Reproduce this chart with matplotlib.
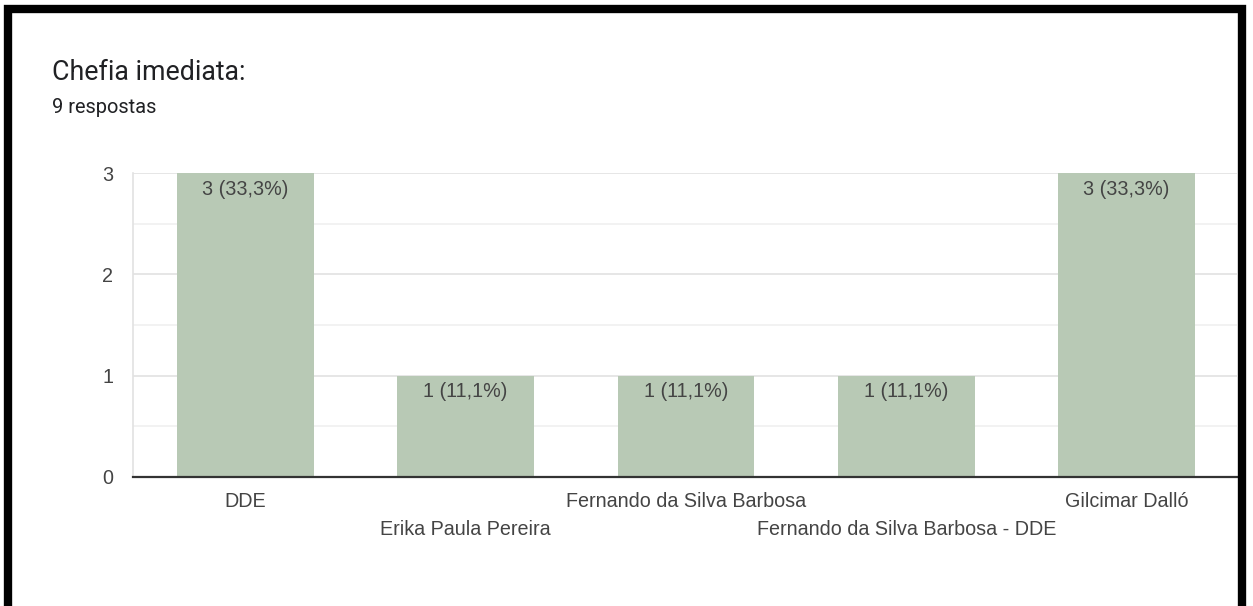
import matplotlib.pyplot as plt
from matplotlib.patches import Rectangle
import numpy as np

categories = ["DDE", "Erika Paula Pereira", "Fernando da Silva Barbosa",
              "Fernando da Silva Barbosa - DDE", "Gilcimar Dalló"]
counts = [3, 1, 1, 1, 3]
percents = ["33,3%", "11,1%", "11,1%", "11,1%", "33,3%"]
title = "Chefia imediata:"
subtitle = "9 respostas"

bar_color = "#b8c9b5"
text_color = "#444444"
fs = 14.2

fig = plt.figure(figsize=(12.53, 6.06), dpi=100)
ax = fig.add_axes([0.1061, 0.2129, 0.8809, 0.5016])

x = np.arange(len(categories))
bars = ax.bar(x, counts, width=0.62, color=bar_color, zorder=2)

ax.set_xlim(-0.51, 4.5)
ax.set_ylim(0, 3)

# grid: major every 1, minor every 0.5
ax.set_yticks([0, 1, 2, 3])
ax.set_yticks(np.arange(0.5, 3, 1), minor=True)
ax.grid(axis="y", which="major", color="#e2e2e2", linewidth=1.2, zorder=0)
ax.grid(axis="y", which="minor", color="#f0f0f0", linewidth=1.2, zorder=0)
ax.tick_params(axis="y", which="both", length=0, pad=14, labelsize=fs,
               labelcolor=text_color)
for lbl in ax.get_yticklabels():
    lbl.set_family("Liberation Sans")

for s in ["top", "right"]:
    ax.spines[s].set_visible(False)
ax.spines["left"].set_color("#e2e2e2")
ax.spines["left"].set_linewidth(1.2)
ax.spines["bottom"].set_color("#333333")
ax.spines["bottom"].set_linewidth(1.6)
ax.spines["bottom"].set_zorder(3)

# staggered category labels
ax.set_xticks(x)
ax.set_xticklabels([])
ax.tick_params(axis="x", length=0)
for i, name in enumerate(categories):
    off = -25 if i % 2 == 0 else -53
    ax.annotate(name, (x[i], 0), xytext=(0, off), textcoords="offset pixels",
                ha="center", va="center", fontsize=fs, color=text_color,
                family="Liberation Sans", annotation_clip=False)

for b, c, p in zip(bars, counts, percents):
    ax.annotate(f"{c} ({p})", (b.get_x() + b.get_width() / 2, c), xytext=(0, -16),
                textcoords="offset pixels", ha="center", va="center",
                fontsize=fs, color=text_color, family="Liberation Sans", zorder=4)

fig.text(52 / 1253, 1 - 73 / 606, title, fontsize=19.3, family="Roboto",
         color="#202124", va="center", ha="left")
fig.text(52 / 1253, 1 - 108 / 606, subtitle, fontsize=14.4, family="Roboto",
         color="#202124", va="center", ha="left")

# black frame around the screenshot
fig.patches.append(Rectangle((8 / 1253, -0.02), 1234 / 1253, 1 - 9 / 606 + 0.02,
                             transform=fig.transFigure, fill=False,
                             edgecolor="black", linewidth=6, zorder=10))

fig.savefig("out.png", dpi=100)
